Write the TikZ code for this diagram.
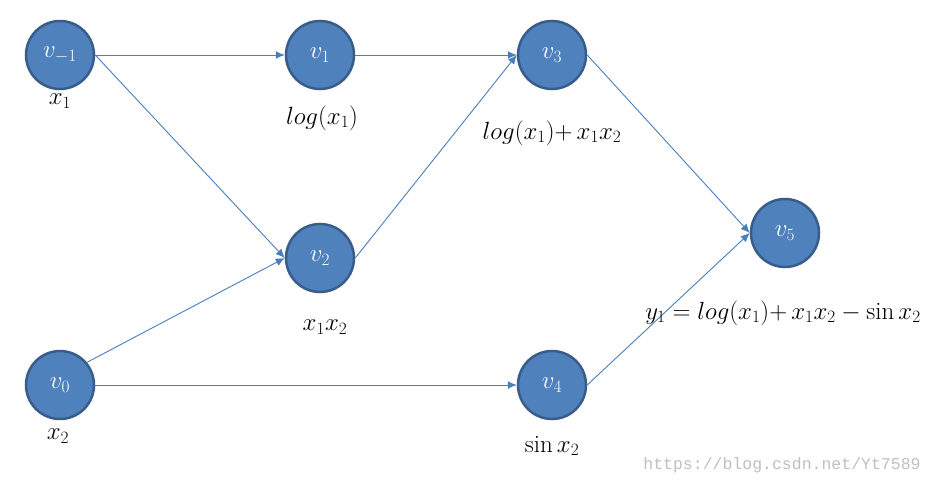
\documentclass[tikz,border=0pt]{standalone}
\usepackage{fontspec}
\usepackage{amsmath}
\newfontfamily\wmfont{Liberation Mono}
\usetikzlibrary{arrows.meta}
\definecolor{nodefill}{HTML}{4F81BD}
\definecolor{nodeline}{HTML}{385D8A}
\definecolor{edgecol}{HTML}{4A7EBB}
\tikzset{
  vert/.style={circle, fill=nodefill, draw=nodeline, line width=2.5pt, minimum size=68pt, inner sep=0pt, text=white, font=\fontsize{26}{30}\selectfont},
  lab/.style={font=\fontsize{25}{30}\selectfont, inner sep=0pt},
  edge/.style={draw=edgecol, line width=0.9pt, -{Latex[length=9pt,width=8pt]}}
}
\begin{document}
\begin{tikzpicture}[x=1pt,y=-1pt]
\useasboundingbox (0,0) rectangle (934,484);
\node[vert] (vm1) at (60,55) {$v_{-1}$};
\node[vert] (v1) at (320,55) {$v_1$};
\node[vert] (v3) at (552,55) {$v_3$};
\node[vert] (v2) at (320,258) {$v_2$};
\node[vert] (v0) at (60,385) {$v_0$};
\node[vert] (v4) at (552,385) {$v_4$};
\node[vert] (v5) at (785,233) {$v_5$};

\draw[edge] (vm1.east) -- (v1.west);
\draw[edge] (vm1.east) -- (v2.west);
\draw[edge] (v1.east) -- (v3.west);
\draw[edge] (v2.east) -- (v3.west);
\draw[edge] (v0.40) -- (v2.west);
\draw[edge] (v0.east) -- (v4.west);
\draw[edge] (v3.east) -- (v5.west);
\draw[edge] (v4.east) -- (v5.west);

\node[lab] (l1) at (60,101) {$x_1$};
\node[lab] (l2) at (322,118) {$log(x_1)$};
\node[lab] (l3) at (552,133) {$log(x_1){+}\,x_1x_2$};
\node[lab] (l4) at (325,327) {$x_1x_2$};
\node[lab] (l5) at (58,436) {$x_2$};
\node[lab] (l6) at (552,446) {$\sin x_2$};
\node[lab] (l7) at (783,313) {$y_1=log(x_1){+}\,x_1x_2-\sin x_2$};
\node[inner sep=0pt, text=black!25, font=\wmfont\fontsize{16.5}{18}\selectfont] (wm) at (782,465) {https://blog.csdn.net/Yt7589};
\end{tikzpicture}
\end{document}
